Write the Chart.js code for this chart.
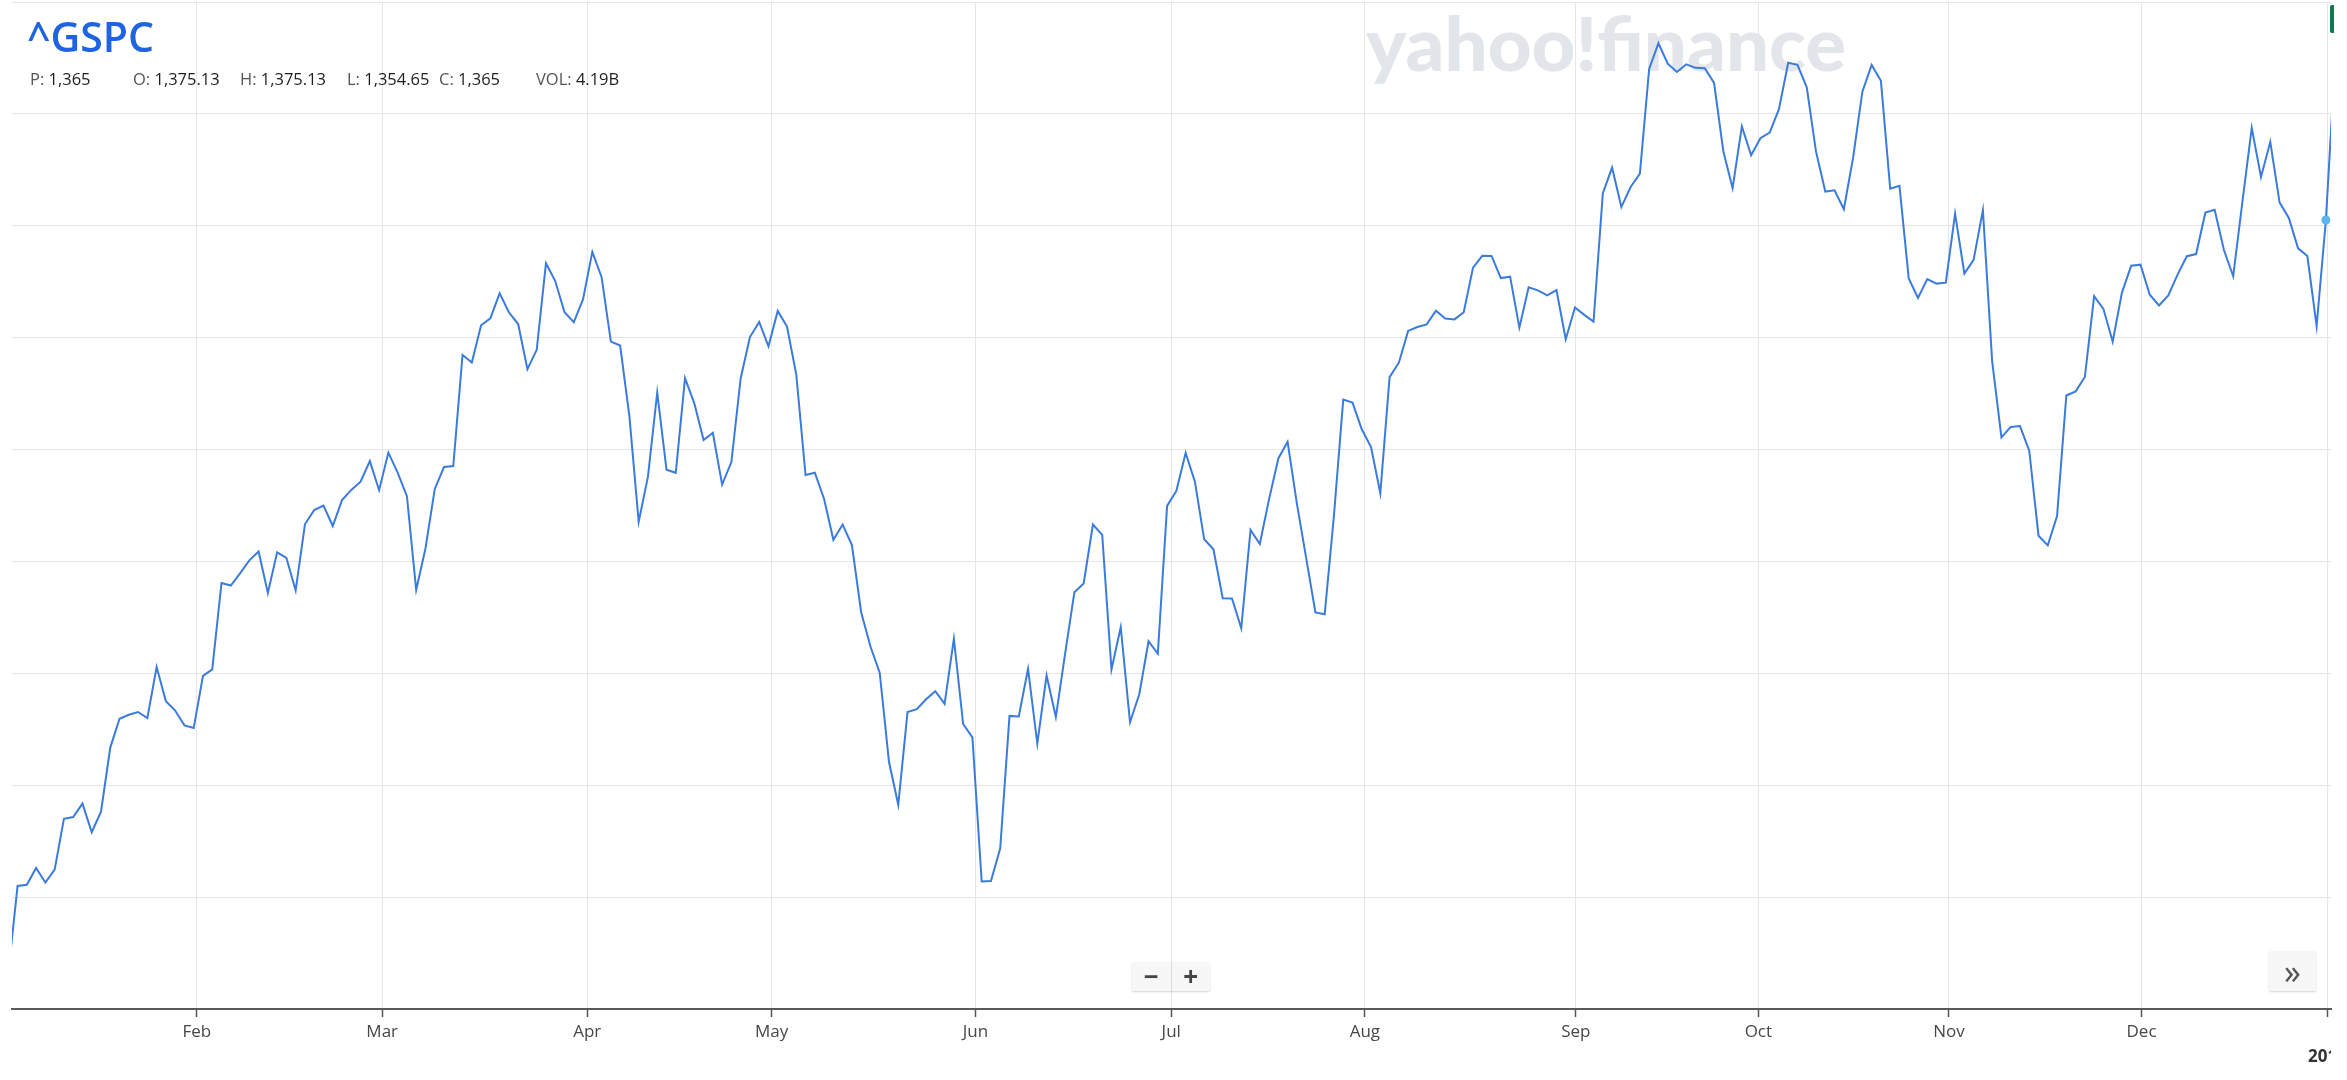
<!DOCTYPE html>
<html>
<head>
<meta charset="utf-8">
<title>^GSPC</title>
<script src="https://cdn.jsdelivr.net/npm/chart.js@4.4.1/dist/chart.umd.min.js"></script>
<style>
  html, body { margin: 0; padding: 0; background: #fff; }
  body { width: 2347px; height: 1080px; position: relative; overflow: hidden; font-family: "Open Sans", sans-serif; }
  .layer { position: absolute; left: 0; top: 0; width: 2347px; height: 1080px; }
  #mark { z-index: 0; }
  #box { z-index: 1; }
  #over { z-index: 2; pointer-events: none; }
  .btn { position: absolute; z-index: 3; background: rgba(246,246,246,0.92); box-shadow: 0 1px 2px rgba(0,0,0,0.18); border-radius: 2px; color: #444; display: flex; align-items: center; justify-content: center; }
  #zoomBtn { left: 1132px; top: 962px; width: 78px; height: 29px; font: bold 26px "Open Sans", sans-serif; }
  #zoomBtn span { flex: 1; text-align: center; line-height: 29px; }
  #zoomBtn span + span { border-left: 1px solid #dcdcdc; }
  #nextBtn { left: 2269px; top: 951px; width: 47px; height: 40px; font: 34px "Open Sans", sans-serif; color: #555; line-height: 40px; }
  #price { position: absolute; z-index: 3; left: 2330px; top: 5px; width: 4px; height: 28px; background: #0c7a4c; border-radius: 2px 0 0 2px; }
</style>
</head>
<body>
<svg id="mark" class="layer" width="2347" height="1080">
  <text x="1366" y="71" textLength="480" lengthAdjust="spacingAndGlyphs" font-family="Lato, Inter, sans-serif" font-weight="900" font-size="74" fill="#e2e5ea">yahoo!finance</text>
</svg>
<div id="box" class="layer"><canvas id="chart"></canvas></div>
<svg id="over" class="layer" width="2347" height="1080" font-family="Open Sans, sans-serif">
  <text x="27" y="52" font-size="41" font-weight="600" fill="#1f63e0">^GSPC</text>
  <g font-size="16.5">
    <text x="30" y="85" fill="#555">P: <tspan fill="#1e1e1e">1,365</tspan></text>
    <text x="133" y="85" fill="#555">O: <tspan fill="#1e1e1e">1,375.13</tspan></text>
    <text x="240" y="85" fill="#555">H: <tspan fill="#1e1e1e">1,375.13</tspan></text>
    <text x="347" y="85" fill="#555">L: <tspan fill="#1e1e1e">1,354.65</tspan></text>
    <text x="439" y="85" fill="#555">C: <tspan fill="#1e1e1e">1,365</tspan></text>
    <text x="536" y="85" fill="#555">VOL: <tspan fill="#1e1e1e">4.19B</tspan></text>
  </g>
</svg>
<div id="zoomBtn" class="btn"><span>&minus;</span><span>+</span></div>
<div id="nextBtn" class="btn">&raquo;</div>
<div id="price"></div>

<script>
// S&P 500 daily closes, end of 2011 through first session of 2013
const dates = [
    '2011-12-30',
    '2012-01-03', '2012-01-04', '2012-01-05', '2012-01-06', '2012-01-09', '2012-01-10', '2012-01-11', '2012-01-12', '2012-01-13', '2012-01-17', '2012-01-18', '2012-01-19', '2012-01-20', '2012-01-23', '2012-01-24', '2012-01-25', '2012-01-26', '2012-01-27', '2012-01-30', '2012-01-31',
    '2012-02-01', '2012-02-02', '2012-02-03', '2012-02-06', '2012-02-07', '2012-02-08', '2012-02-09', '2012-02-10', '2012-02-13', '2012-02-14', '2012-02-15', '2012-02-16', '2012-02-17', '2012-02-21', '2012-02-22', '2012-02-23', '2012-02-24', '2012-02-27', '2012-02-28', '2012-02-29',
    '2012-03-01', '2012-03-02', '2012-03-05', '2012-03-06', '2012-03-07', '2012-03-08', '2012-03-09', '2012-03-12', '2012-03-13', '2012-03-14', '2012-03-15', '2012-03-16', '2012-03-19', '2012-03-20', '2012-03-21', '2012-03-22', '2012-03-23', '2012-03-26', '2012-03-27', '2012-03-28', '2012-03-29', '2012-03-30',
    '2012-04-02', '2012-04-03', '2012-04-04', '2012-04-05', '2012-04-09', '2012-04-10', '2012-04-11', '2012-04-12', '2012-04-13', '2012-04-16', '2012-04-17', '2012-04-18', '2012-04-19', '2012-04-20', '2012-04-23', '2012-04-24', '2012-04-25', '2012-04-26', '2012-04-27', '2012-04-30',
    '2012-05-01', '2012-05-02', '2012-05-03', '2012-05-04', '2012-05-07', '2012-05-08', '2012-05-09', '2012-05-10', '2012-05-11', '2012-05-14', '2012-05-15', '2012-05-16', '2012-05-17', '2012-05-18', '2012-05-21', '2012-05-22', '2012-05-23', '2012-05-24', '2012-05-25', '2012-05-29', '2012-05-30', '2012-05-31',
    '2012-06-01', '2012-06-04', '2012-06-05', '2012-06-06', '2012-06-07', '2012-06-08', '2012-06-11', '2012-06-12', '2012-06-13', '2012-06-14', '2012-06-15', '2012-06-18', '2012-06-19', '2012-06-20', '2012-06-21', '2012-06-22', '2012-06-25', '2012-06-26', '2012-06-27', '2012-06-28', '2012-06-29',
    '2012-07-02', '2012-07-03', '2012-07-05', '2012-07-06', '2012-07-09', '2012-07-10', '2012-07-11', '2012-07-12', '2012-07-13', '2012-07-16', '2012-07-17', '2012-07-18', '2012-07-19', '2012-07-20', '2012-07-23', '2012-07-24', '2012-07-25', '2012-07-26', '2012-07-27', '2012-07-30', '2012-07-31',
    '2012-08-01', '2012-08-02', '2012-08-03', '2012-08-06', '2012-08-07', '2012-08-08', '2012-08-09', '2012-08-10', '2012-08-13', '2012-08-14', '2012-08-15', '2012-08-16', '2012-08-17', '2012-08-20', '2012-08-21', '2012-08-22', '2012-08-23', '2012-08-24', '2012-08-27', '2012-08-28', '2012-08-29', '2012-08-30', '2012-08-31',
    '2012-09-04', '2012-09-05', '2012-09-06', '2012-09-07', '2012-09-10', '2012-09-11', '2012-09-12', '2012-09-13', '2012-09-14', '2012-09-17', '2012-09-18', '2012-09-19', '2012-09-20', '2012-09-21', '2012-09-24', '2012-09-25', '2012-09-26', '2012-09-27', '2012-09-28',
    '2012-10-01', '2012-10-02', '2012-10-03', '2012-10-04', '2012-10-05', '2012-10-08', '2012-10-09', '2012-10-10', '2012-10-11', '2012-10-12', '2012-10-15', '2012-10-16', '2012-10-17', '2012-10-18', '2012-10-19', '2012-10-22', '2012-10-23', '2012-10-24', '2012-10-25', '2012-10-26', '2012-10-31',
    '2012-11-01', '2012-11-02', '2012-11-05', '2012-11-06', '2012-11-07', '2012-11-08', '2012-11-09', '2012-11-12', '2012-11-13', '2012-11-14', '2012-11-15', '2012-11-16', '2012-11-19', '2012-11-20', '2012-11-21', '2012-11-23', '2012-11-26', '2012-11-27', '2012-11-28', '2012-11-29', '2012-11-30',
    '2012-12-03', '2012-12-04', '2012-12-05', '2012-12-06', '2012-12-07', '2012-12-10', '2012-12-11', '2012-12-12', '2012-12-13', '2012-12-14', '2012-12-17', '2012-12-18', '2012-12-19', '2012-12-20', '2012-12-21', '2012-12-24', '2012-12-26', '2012-12-27', '2012-12-28', '2012-12-31',
    '2013-01-02'
]

const closes = [
    1257.60,
    1277.06, 1277.30, 1281.06, 1277.81, 1280.70, 1292.08, 1292.48, 1295.50, 1289.09, 1293.67, 1308.04, 1314.50, 1315.38, 1316.00, 1314.65, 1326.06, 1318.43, 1316.33, 1313.01, 1312.41,
    1324.09, 1325.54, 1344.90, 1344.33, 1347.05, 1349.96, 1351.95, 1342.64, 1351.77, 1350.50, 1343.23, 1358.04, 1361.23, 1362.21, 1357.66, 1363.46, 1365.74, 1367.59, 1372.18, 1365.68,
    1374.09, 1369.63, 1364.33, 1343.36, 1352.63, 1365.91, 1370.87, 1371.09, 1395.95, 1394.28, 1402.60, 1404.17, 1409.75, 1405.52, 1402.89, 1392.78, 1397.11, 1416.51, 1412.52, 1405.54, 1403.28, 1408.47,
    1419.04, 1413.38, 1398.96, 1398.08, 1382.20, 1358.59, 1368.71, 1387.57, 1370.26, 1369.57, 1390.78, 1385.14, 1376.92, 1378.53, 1366.94, 1371.97, 1390.69, 1399.98, 1403.36, 1397.91,
    1405.82, 1402.31, 1391.57, 1369.10, 1369.58, 1363.72, 1354.58, 1357.99, 1353.39, 1338.35, 1330.66, 1324.80, 1304.86, 1295.22, 1315.99, 1316.63, 1318.86, 1320.68, 1317.82, 1332.42, 1313.32, 1310.33,
    1278.04, 1278.18, 1285.50, 1315.13, 1314.99, 1325.66, 1308.93, 1324.18, 1314.88, 1329.10, 1342.84, 1344.78, 1357.98, 1355.69, 1325.51, 1335.02, 1313.72, 1319.99, 1331.85, 1329.04, 1362.16,
    1365.51, 1374.02, 1367.58, 1354.68, 1352.46, 1341.47, 1341.45, 1334.76, 1356.78, 1353.64, 1363.67, 1372.78, 1376.51, 1362.66, 1350.52, 1338.31, 1337.89, 1360.02, 1385.97, 1385.30, 1379.32,
    1375.32, 1365.00, 1390.99, 1394.23, 1401.35, 1402.22, 1402.80, 1405.87, 1404.11, 1403.93, 1405.53, 1415.51, 1418.16, 1418.13, 1413.17, 1413.49, 1402.08, 1411.13, 1410.44, 1409.30, 1410.49, 1399.48, 1406.58,
    1404.94, 1403.44, 1432.12, 1437.92, 1429.08, 1433.56, 1436.56, 1459.99, 1465.77, 1461.19, 1459.32, 1461.05, 1460.26, 1460.15, 1456.89, 1441.59, 1433.32, 1447.15, 1440.67,
    1444.49, 1445.75, 1450.99, 1461.40, 1460.93, 1455.88, 1441.48, 1432.56, 1432.84, 1428.59, 1440.13, 1454.92, 1460.91, 1457.34, 1433.19, 1433.82, 1413.11, 1408.75, 1412.97, 1411.94, 1412.16,
    1427.59, 1414.20, 1417.26, 1428.39, 1394.53, 1377.51, 1379.85, 1380.03, 1374.53, 1355.49, 1353.33, 1359.88, 1386.89, 1387.81, 1391.03, 1409.15, 1406.29, 1398.94, 1409.93, 1415.95, 1416.18,
    1409.46, 1407.05, 1409.28, 1413.94, 1418.07, 1418.55, 1427.84, 1428.48, 1419.45, 1413.58, 1430.36, 1446.79, 1435.81, 1443.69, 1430.15, 1426.66, 1419.83, 1418.10, 1402.43, 1426.19,
    1462.42
]

const monthNames = ['Jan', 'Feb', 'Mar', 'Apr', 'May', 'Jun', 'Jul', 'Aug', 'Sep', 'Oct', 'Nov', 'Dec']

// visible window, in trading-session units
const viewStart = 0.4
const viewEnd = 250.55
const lastIdx = dates.indexOf('2012-12-31')

function closeTime(iso) {
    return new Date(iso + 'T16:00:00')
}

// month boundaries sit between sessions, proportional to clock time
function getMonthTicks() {
    let out = []
    for (let i = 1; i < dates.length; i++) {
        let prev = closeTime(dates[i - 1])
        let next = closeTime(dates[i])
        if (prev.getMonth() !== next.getMonth()) {
            let start = new Date(next.getFullYear(), next.getMonth(), 1)
            out.push({
                value: i - 1 + (start - prev) / (next - prev),
                label: next.getMonth() === 0 ? String(next.getFullYear()) : monthNames[next.getMonth()]
            })
        }
    }
    return out.filter(t => t.value >= viewStart && t.value <= viewEnd)
}

const monthTicks = getMonthTicks()

const yearLabel = {
    id: 'yearLabel',
    afterDraw(chart) {
        const ctx = chart.ctx
        const area = chart.chartArea
        const x = chart.scales.x
        monthTicks.filter(t => t.label.length === 4).forEach(t => {
            ctx.save()
            ctx.beginPath()
            ctx.rect(0, area.bottom, area.right, chart.height - area.bottom)
            ctx.clip()
            ctx.font = 'bold 17px "Open Sans"'
            ctx.fillStyle = '#333'
            ctx.textAlign = 'center'
            ctx.textBaseline = 'middle'
            ctx.fillText(t.label, x.getPixelForValue(t.value), area.bottom + 48)
            ctx.restore()
        })
    }
}

new Chart(document.getElementById('chart').getContext('2d'), {
    type: 'line',
    data: {
        datasets: [{
            label: '^GSPC',
            data: closes.map((c, i) => ({x: i, y: c})),
            borderColor: '#3b7bdc',
            borderWidth: 2,
            tension: 0,
            pointRadius: ctx => ctx.dataIndex === lastIdx ? 4.5 : 0,
            pointBackgroundColor: '#5cb4f2',
            pointBorderWidth: 0
        }]
    },
    options: {
        responsive: true,
        maintainAspectRatio: false,
        animation: false,
        layout: {padding: {left: 12, right: 16, top: 2, bottom: 0}},
        plugins: {legend: {display: false}, tooltip: {enabled: false}},
        scales: {
            x: {
                type: 'linear',
                min: viewStart,
                max: viewEnd,
                afterBuildTicks: s => { s.ticks = monthTicks.map(t => ({value: t.value})) },
                afterFit: s => { s.height = 71 },
                grid: {color: '#e6e6e6', tickColor: '#555', tickLength: 8, tickWidth: 1.5},
                border: {display: true, color: '#5a5a5a', width: 2},
                ticks: {
                    autoSkip: false,
                    maxRotation: 0,
                    padding: 5,
                    color: '#474747',
                    font: {family: 'Open Sans', size: 17},
                    callback: (v, i) => monthTicks[i].label.length === 4 ? '' : monthTicks[i].label
                }
            },
            y: {
                position: 'right',
                min: 1249.5,
                max: 1475,
                afterFit: s => { s.width = 0 },
                ticks: {display: false, stepSize: 25},
                border: {display: false},
                grid: {color: '#e6e6e6', drawTicks: false}
            }
        }
    },
    plugins: [yearLabel]
})
</script>
</body>
</html>
